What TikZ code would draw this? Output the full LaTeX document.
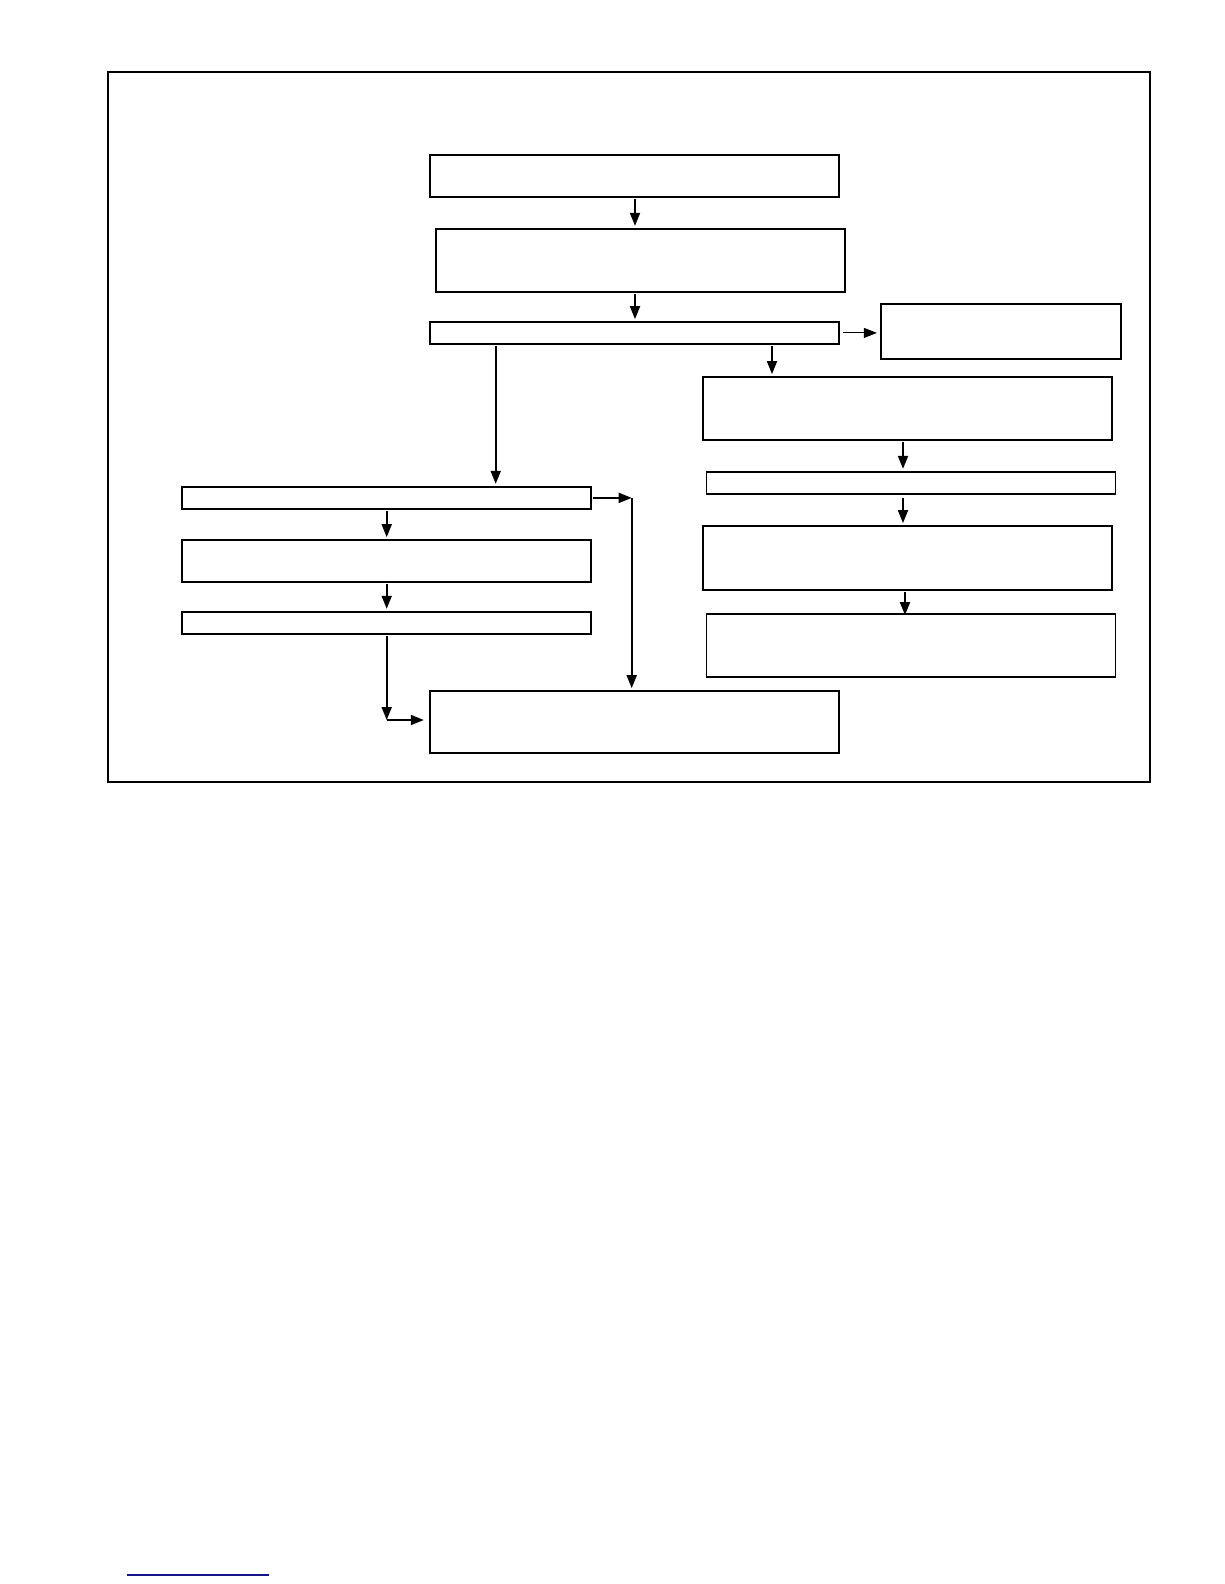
\documentclass[tikz,border=0pt]{standalone}
\usepackage{tikz}
\usetikzlibrary{arrows.meta}

\begin{document}
\begin{tikzpicture}[x=1pt,y=-1pt]
\useasboundingbox (0,0) rectangle (1224,1584);
\draw[line width=1.8pt] (107.7,72) rectangle (1150,782);

\begin{scope}[every node/.style={rectangle,draw,line width=1.8pt,inner sep=0pt,minimum width=409pt}]
    \node[minimum height=41.7pt] (A) at (634.4,175.9) {};
    \node[minimum height=63.3pt] (B) at (640.4,260.4) {};
    \node[minimum height=21.7pt] (C) at (634.4,332.9) {};
    \node[minimum width=240.3pt,minimum height=55pt] (D) at (1000.9,331.5) {};
    \node[minimum height=63pt] (E) at (907.4,408.5) {};
    \node[minimum height=22.3pt] (F) at (910.9,482.9) {};
    \node[minimum height=64pt] (G) at (907.4,558) {};
    \node[minimum height=63pt] (H) at (910.9,645.5) {};
    \node[minimum height=22.3pt] (L1) at (386.4,497.9) {};
    \node[minimum height=41.7pt] (L2) at (386.4,560.9) {};
    \node[minimum height=22pt] (L3) at (386.4,622.7) {};
    \node[minimum height=62.3pt] (M) at (634.2,722.2) {};
    \end{scope}

% guides for the arrows that leave off centre
\coordinate (m1) at (635,0);
\coordinate (c1) at (772,0);
\coordinate (c2) at (495.7,0);
\coordinate (r1) at (903,0);
\coordinate (r2) at (905,0);
\coordinate (k1) at (631.7,497.9);
\coordinate (k2) at (386.7,720);

\begin{scope}[>={Triangle[length=13pt,width=10pt]},
              every edge/.style={draw=black,line width=1.8pt,shorten >=2pt,shorten <=1pt}]
    \path [->] (A.south -| m1) edge (B.north -| m1);
    \path [->] (B.south -| m1) edge (C.north -| m1);
    \path [->] (C.east) edge[line width=1pt,shorten <=3pt,shorten >=3pt] (C.east -| D.west);
    \path [->] (C.south -| c1) edge (E.north -| c1);
    \path [->] (C.south -| c2) edge (L1.north -| c2);
    \path [->] (E.south -| r1) edge (F.north -| r1);
    \path [->] (F.south -| r1) edge[shorten <=3pt] (G.north -| r1);
    \path [->] (G.south -| r2) edge[shorten >=-2pt] (H.north -| r2);
    \path [->] (L1.south -| k2) edge (L2.north -| k2);
    \path [->] (L2.south -| k2) edge (L3.north -| k2);
    \path [->] (L1.east) edge[shorten >=0pt] (k1);
    \path [->] (k1) edge[shorten <=0pt] (M.north -| k1);
    \path [->] (L3.south -| k2) edge[shorten >=0pt] (k2);
    \path [->] (k2) edge[shorten <=0pt,shorten >=5pt] (k2 -| M.west);
    \end{scope}

\draw[color={rgb,255:red,20;green,20;blue,140},line width=1.2pt] (127,1575) -- (269,1575);
\end{tikzpicture}
\end{document}
